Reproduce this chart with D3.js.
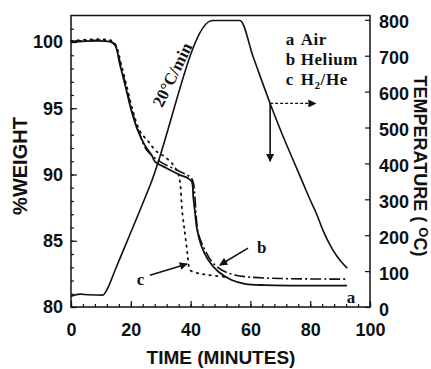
<!DOCTYPE html>
<html>
<head>
<meta charset="utf-8">
<script src="https://cdn.jsdelivr.net/npm/d3@7"></script>
<style>
  body { margin: 0; background: #fff; }
  svg { display: block; }
  .tick text { font-family: "Liberation Sans", Arial, sans-serif; font-weight: bold; font-size: 18px; fill: #111; }
  .tick line { stroke: #111; stroke-width: 1.2; }
  .domain { display: none; }
</style>
</head>
<body>
<div id="chart"></div>
<script>
// values
const timeTicks = [0, 20, 40, 60, 80, 100];
const weightTicks = [80, 85, 90, 95, 100];
const tempTicks = [0, 100, 200, 300, 400, 500, 600, 700, 800];

// [time (min), %weight]
const airCurve = [[0, 100], [13, 100.02], [14.7, 99.77], [16.4, 98.26], [18.1, 96.75], [20.3, 94.74],
  [22.5, 93.23], [24.7, 92.2], [27, 91.45], [28.1, 90.97], [32, 90.47], [36.5, 89.96], [39.2, 89.71],
  [40.4, 89.46], [40.9, 88.3], [41.4, 87.3], [42.2, 85.8], [43.7, 84.55], [45.9, 83.55], [49.3, 82.66],
  [53.7, 82.04], [58.2, 81.75], [65, 81.65], [92.3, 81.62]];
const heliumCurve = [[0, 100.05], [13.2, 100.05], [14.9, 99.75], [16.6, 98.26], [18.3, 96.75], [20.5, 94.74],
  [22.7, 93.23], [25.3, 91.85], [29.8, 90.97], [34.2, 90.47], [37.6, 90.09], [40.2, 89.75], [40.9, 89.4],
  [41.4, 88.4], [42.6, 85.56], [44.8, 84.3], [47.1, 83.42], [50.4, 82.79], [54.8, 82.42], [60, 82.25],
  [70, 82.15], [92.7, 82.1]];
const h2heCurve = [[0, 100.08], [13.4, 100.12], [15.1, 99.7], [16.8, 98.3], [18.5, 96.8], [20.7, 94.8],
  [23, 93.3], [25.9, 92.48], [28.7, 91.72], [31.4, 91.34], [34.2, 90.72], [35.8, 90.1], [36.5, 89.34],
  [37.2, 87.2], [38.1, 85.56], [38.8, 84.3], [39.2, 83.5], [39.8, 82.79], [42.6, 82.54], [45.9, 82.42],
  [52.6, 82.24]];
// [time (min), temperature (C)]
const tempCurve = [[0, 30], [3, 36], [6, 34], [10.7, 33], [12, 48], [15, 108], [26.5, 340], [47.3, 798],
  [56.5, 798], [61, 695], [66.6, 567], [70.5, 484], [74, 415], [77.7, 343], [80, 298], [82, 262],
  [84.2, 215], [86.3, 178], [88.9, 142], [90.6, 124], [92.4, 108]];

const legendItems = [['a', 'Air'], ['b', 'Helium'], ['c', 'H', '2', '/He']];

const width = 431;
const height = 369;
const ink = '#111';

const svg = d3.select('#chart').append('svg')
  .attr('width', width)
  .attr('height', height);

const x = d3.scaleLinear().domain([0, 100]).range([71, 370]);
const yW = d3.scaleLinear().domain([80, 102]).range([307, 15.5]);
const yT = d3.scaleLinear().domain([0, 812]).range([307, 15.5]);

const defs = svg.append('defs');
defs.append('marker')
  .attr('id', 'head')
  .attr('viewBox', '0 0 10 10')
  .attr('refX', 9).attr('refY', 5)
  .attr('markerWidth', 10).attr('markerHeight', 8)
  .attr('markerUnits', 'userSpaceOnUse')
  .attr('orient', 'auto')
  .append('path')
  .attr('d', 'M0,0 L10,5 L0,10 z')
  .attr('fill', ink);

// axes, ticks pointing inward
const bottomMinor = d3.axisBottom(x).tickValues(d3.range(0, 101, 4)).tickSizeInner(-3).tickSizeOuter(0).tickFormat('');
svg.append('g').attr('transform', `translate(0,${yW(80)})`).call(bottomMinor);
const bottomAxis = d3.axisBottom(x).tickValues(timeTicks).tickSizeInner(-6).tickSizeOuter(0).tickPadding(16);
svg.append('g').attr('transform', `translate(0,${yW(80)})`).call(bottomAxis);

const leftMinor = d3.axisLeft(yW).tickValues(d3.range(80, 102, 1)).tickSizeInner(-3).tickSizeOuter(0).tickFormat('');
svg.append('g').attr('transform', `translate(${x(0)},0)`).call(leftMinor);
const leftAxis = d3.axisLeft(yW).tickValues(weightTicks).tickSizeInner(-6).tickSizeOuter(0).tickPadding(8);
svg.append('g').attr('transform', `translate(${x(0)},0)`).call(leftAxis);

const rightAxis = d3.axisRight(yT).tickValues(tempTicks).tickSizeInner(-5).tickSizeOuter(0).tickPadding(9);
const rightG = svg.append('g').attr('transform', `translate(${x(100)},0)`).call(rightAxis);
rightG.selectAll('.tick text').attr('dy', '0.45em');

svg.selectAll('.tick line').attr('stroke', ink);

// frame
svg.append('rect')
  .attr('x', x(0)).attr('y', yW(102))
  .attr('width', x(100) - x(0)).attr('height', yW(80) - yW(102))
  .attr('fill', 'none').attr('stroke', ink).attr('stroke-width', 1.5);

// curves
const weightLine = d3.line().x(d => x(d[0])).y(d => yW(d[1])).curve(d3.curveCatmullRom);
const tempLine = d3.line().x(d => x(d[0])).y(d => yT(d[1])).curve(d3.curveMonotoneX);

svg.append('path').datum(tempCurve)
  .attr('d', tempLine).attr('fill', 'none').attr('stroke', ink).attr('stroke-width', 1.6);

svg.append('path').datum(airCurve)
  .attr('d', weightLine).attr('fill', 'none').attr('stroke', ink).attr('stroke-width', 1.8);

svg.append('path').datum(heliumCurve)
  .attr('d', weightLine).attr('fill', 'none').attr('stroke', ink).attr('stroke-width', 1.6)
  .attr('stroke-dasharray', '11,3,2,3');

svg.append('path').datum(h2heCurve)
  .attr('d', weightLine).attr('fill', 'none').attr('stroke', ink).attr('stroke-width', 1.8)
  .attr('stroke-dasharray', '1.5,5').attr('stroke-linecap', 'round');

// annotations
const serif = '"Liberation Serif", "Times New Roman", serif';
const sans = '"Liberation Sans", Arial, sans-serif';

svg.append('text')
  .attr('transform', `translate(${x(35.6)},${yT(640)}) rotate(-64)`)
  .attr('text-anchor', 'middle')
  .attr('font-family', serif).attr('font-weight', 'bold').attr('font-size', 17)
  .attr('fill', ink)
  .text('20°C/min');

const legend = svg.append('g')
  .attr('font-family', serif).attr('font-weight', 'bold').attr('font-size', 17).attr('fill', ink);
legendItems.forEach((item, i) => {
  const ty = yT(730) + i * 20;
  legend.append('text').attr('x', x(71.8)).attr('y', ty).text(item[0]);
  const t = legend.append('text').attr('x', x(76.8)).attr('y', ty).attr('letter-spacing', 0.6);
  t.append('tspan').text(item[1]);
  if (item.length > 2) {
    t.append('tspan').attr('font-size', 11).attr('dy', 4).text(item[2]);
    t.append('tspan').attr('dy', -4).text(item[3]);
  }
});

// arrows from the temperature curve
svg.append('line')
  .attr('x1', x(66.6)).attr('y1', yT(567)).attr('x2', x(81.8)).attr('y2', yT(567))
  .attr('stroke', ink).attr('stroke-width', 1.2).attr('stroke-dasharray', '3,2')
  .attr('marker-end', 'url(#head)');
svg.append('line')
  .attr('x1', x(66.6)).attr('y1', yT(567)).attr('x2', x(66.6)).attr('y2', yW(91.0))
  .attr('stroke', ink).attr('stroke-width', 1.6)
  .attr('marker-end', 'url(#head)');

// curve labels
const labels = [
  { text: 'c', t: 22, w: 81.65, from: [26.4, 82.4], to: [38.8, 83.25] },
  { text: 'b', t: 62.2, w: 84.1, from: [59.2, 84.45], to: [49.8, 83.17] },
  { text: 'a', t: 92.2, w: 80.3 }
];
labels.forEach(l => {
  svg.append('text')
    .attr('x', x(l.t)).attr('y', yW(l.w))
    .attr('font-family', serif).attr('font-weight', 'bold').attr('font-size', 17).attr('fill', ink)
    .text(l.text);
  if (l.from) {
    svg.append('line')
      .attr('x1', x(l.from[0])).attr('y1', yW(l.from[1]))
      .attr('x2', x(l.to[0])).attr('y2', yW(l.to[1]))
      .attr('stroke', ink).attr('stroke-width', 1.5)
      .attr('marker-end', 'url(#head)');
  }
});

// axis titles
svg.append('text')
  .attr('x', 221).attr('y', 364)
  .attr('text-anchor', 'middle')
  .attr('font-family', sans).attr('font-weight', 'bold').attr('font-size', 19).attr('fill', ink)
  .text('TIME (MINUTES)');

svg.append('text')
  .attr('transform', 'translate(27,166) rotate(-90)')
  .attr('text-anchor', 'middle')
  .attr('font-family', sans).attr('font-weight', 'bold').attr('font-size', 20).attr('fill', ink)
  .text('%WEIGHT');

const tempTitle = svg.append('text')
  .attr('transform', 'translate(414,166) rotate(90)')
  .attr('text-anchor', 'middle')
  .attr('font-family', sans).attr('font-weight', 'bold').attr('font-size', 18).attr('fill', ink);
tempTitle.append('tspan').text('TEMPERATURE ( ');
tempTitle.append('tspan').attr('font-size', 13).attr('dy', -5).text('O');
tempTitle.append('tspan').attr('dy', 5).text('C)');
</script>
</body>
</html>
